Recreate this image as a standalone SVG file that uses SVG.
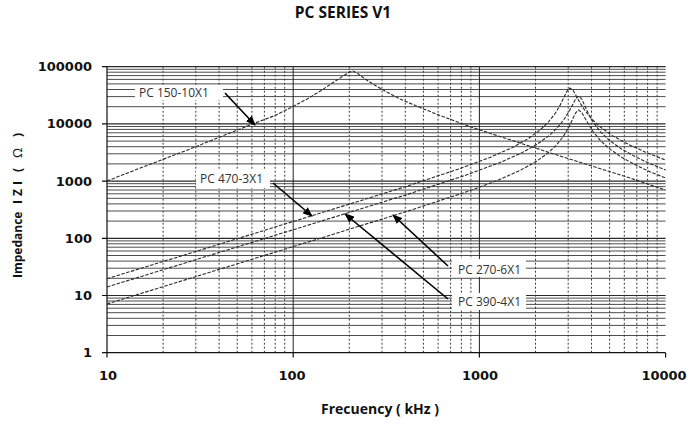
<svg xmlns="http://www.w3.org/2000/svg" width="691" height="424" viewBox="0 0 691 424">
<style>
.hmin{stroke:#4d4d4d;stroke-width:1;fill:none}
.hdec{stroke:#2a2a2a;stroke-width:1.2;fill:none}
.vmin{stroke:#3a3a3a;stroke-width:1;stroke-dasharray:2 2;fill:none}
.vdec{stroke:#222;stroke-width:1;fill:none}
.axis{stroke:#111;stroke-width:1.2;fill:none}
.curve{stroke:#2a2a2a;stroke-width:1.1;stroke-dasharray:3.5 1.5;fill:none}
.arrow{stroke:#000;stroke-width:1.6;fill:none}
.num{font-family:"DejaVu Sans",sans-serif;font-weight:bold;font-size:13px;fill:#111}
.ttl{font-family:"Open Sans","Liberation Sans",sans-serif;font-weight:bold;fill:#111}
.lbl{font-family:"Open Sans","Liberation Sans",sans-serif;font-size:12px;fill:#333}
.box{fill:#fff}
</style>
<defs>
<marker id="ah" markerUnits="userSpaceOnUse" markerWidth="10" markerHeight="8" refX="9" refY="4" orient="auto">
<path d="M0,0 L10,4 L0,8 z" fill="#000"/>
</marker>
</defs>
<rect width="691" height="424" fill="#fff"/>
<g id="title"><text class="ttl" x="343" y="18" font-size="15.5" text-anchor="middle">PC SERIES V1</text></g>
<g id="grid">
<path class="hmin" d="M107 335.5H665.6M107 325.4H665.6M107 318.3H665.6M107 312.7H665.6M107 308.2H665.6M107 304.4H665.6M107 301H665.6M107 298.1H665.6
M107 278.3H665.6M107 268.2H665.6M107 261.1H665.6M107 255.5H665.6M107 251H665.6M107 247.2H665.6M107 243.8H665.6M107 240.9H665.6
M107 221.1H665.6M107 211H665.6M107 203.9H665.6M107 198.3H665.6M107 193.8H665.6M107 190H665.6M107 186.6H665.6M107 183.7H665.6
M107 163.9H665.6M107 153.8H665.6M107 146.7H665.6M107 141.1H665.6M107 136.6H665.6M107 132.8H665.6M107 129.4H665.6M107 126.5H665.6
M107 106.7H665.6M107 96.6H665.6M107 89.5H665.6M107 83.9H665.6M107 79.4H665.6M107 75.6H665.6M107 72.2H665.6M107 69.3H665.6"/>
<path class="hdec" d="M107 66.7H665.6M107 123.9H665.6M107 181.1H665.6M107 238.3H665.6M107 295.5H665.6"/>
<path class="vmin" d="M163.1 66.7V352.7M195.8 66.7V352.7M219.1 66.7V352.7M237.2 66.7V352.7M251.9 66.7V352.7M264.4 66.7V352.7M275.2 66.7V352.7M284.7 66.7V352.7
M349.3 66.7V352.7M382 66.7V352.7M405.3 66.7V352.7M423.4 66.7V352.7M438.1 66.7V352.7M450.6 66.7V352.7M461.4 66.7V352.7M470.9 66.7V352.7
M535.5 66.7V352.7M568.2 66.7V352.7M591.5 66.7V352.7M609.6 66.7V352.7M624.3 66.7V352.7M636.8 66.7V352.7M647.6 66.7V352.7M657.1 66.7V352.7"/>
<path class="vdec" d="M293.2 66.7V352.7M479.4 66.7V352.7"/>
</g>
<g id="axes">
<path class="axis" d="M107 66.7V352.7H665.6"/>
<path class="axis" d="M102 66.7H107M102 123.9H107M102 181.1H107M102 238.3H107M102 295.5H107M102 352.7H107M107 352.7V357.5M293.2 352.7V357.5M479.4 352.7V357.5M665.6 352.7V357.5"/>
<text class="num" x="92" y="71.2" text-anchor="end">100000</text>
<text class="num" x="92" y="128.4" text-anchor="end">10000</text>
<text class="num" x="92" y="185.6" text-anchor="end">1000</text>
<text class="num" x="92" y="242.8" text-anchor="end">100</text>
<text class="num" x="92" y="300" text-anchor="end">10</text>
<text class="num" x="92" y="357.2" text-anchor="end">1</text>
<text class="num" x="108" y="380" text-anchor="middle">10</text>
<text class="num" x="292" y="380" text-anchor="middle">100</text>
<text class="num" x="480" y="380" text-anchor="middle">1000</text>
<text class="num" x="664" y="380" text-anchor="middle">10000</text>
<text class="ttl" x="380" y="414" font-size="14" text-anchor="middle">Frecuency ( kHz )</text>
<text class="ttl" font-size="12" transform="translate(22,0) rotate(-90)"><tspan x="-278" y="0">Impedance</tspan><tspan x="-204" y="0">I</tspan><tspan x="-196" y="0">Z</tspan><tspan x="-185" y="0">I</tspan><tspan x="-172" y="0">(</tspan><tspan x="-158" y="0" font-weight="normal" font-size="13">Ω</tspan><tspan x="-137" y="0">)</tspan></text>
</g>
<g id="curves">
<path id="c150" class="curve" d="M107,181 L130,172 L160,160.5 L190,149 L220,137 L255,123 L275,115.5 L291,107.5 L308,98.5 L322,90 L334,82 L344,75.5 L350,72 L353,71 L357,73 L363,77.5 L372,83.5 L385,91 L400,99 L420,107.5 L440,115.5 L460,123 L480,130 L523,144 L560,156 L590,165.5 L630,178 L665.6,190"/>
<path id="c470" class="curve" d="M107,278.7 L200,250.2 L300,219.4 L400,188.4 L460,168.6 L490,157.4 L512,147.7 L528,138.8 L540,130.1 L548,122.5 L555,113.7 L560,105.4 L564,97.2 L567,91 L570,88 L573,90.3 L576,95.5 L580,102.9 L585,110.7 L592,119.3 L600,126.7 L612,135.4 L628,144.2 L645,151.9 L655,156 L665.6,160"/>
<path id="c390" class="curve" d="M107,287 L209,255.6 L309,224.9 L409,193.9 L469,174.1 L499,162.9 L521,153.2 L537,144.3 L549,135.7 L557,128.2 L564,119.5 L569,111.5 L573,103.9 L576,98.5 L579,96 L582,99.5 L585,106.3 L589,114.9 L594,123.4 L601,132.4 L609,140 L621,148.7 L637,157.6 L650,163.6 L665.6,170"/>
<path id="c270" class="curve" d="M107,303.9 L208.5,272.7 L308.5,241.9 L408.5,210.9 L468.5,191.2 L498.5,180 L520.5,170.2 L536.5,161.3 L548.5,152.6 L556.5,145 L563.5,136.1 L568.5,127.8 L572.5,119.5 L575.5,113.1 L578.5,110 L581.5,112.2 L584.5,117.2 L588.5,124.3 L593.5,132.1 L600.5,140.6 L608.5,148 L620.5,156.6 L636.5,165.5 L650,171.7 L665.6,178"/>
</g>
<g id="connectors">
<line class="arrow" x1="225" y1="93" x2="255" y2="125" marker-end="url(#ah)"/>
<line class="arrow" x1="273" y1="183" x2="312" y2="216" marker-end="url(#ah)"/>
<line class="arrow" x1="448" y1="266" x2="393" y2="215" marker-end="url(#ah)"/>
<line class="arrow" x1="448" y1="299" x2="345" y2="214" marker-end="url(#ah)"/>
</g>
<g id="label-pc150">
<rect class="box" x="135" y="85" width="88" height="15"/>
<text class="lbl" x="139" y="97">PC 150-10X1</text>
</g>
<g id="label-pc470">
<rect class="box" x="196" y="169" width="74" height="19"/>
<text class="lbl" x="200" y="183">PC 470-3X1</text>
</g>
<g id="label-pc270">
<rect class="box" x="452" y="259" width="74" height="18"/>
<text class="lbl" x="458" y="273.5">PC 270-6X1</text>
</g>
<g id="label-pc390">
<rect class="box" x="452" y="293" width="74" height="17"/>
<text class="lbl" x="458" y="306">PC 390-4X1</text>
</g>
</svg>
